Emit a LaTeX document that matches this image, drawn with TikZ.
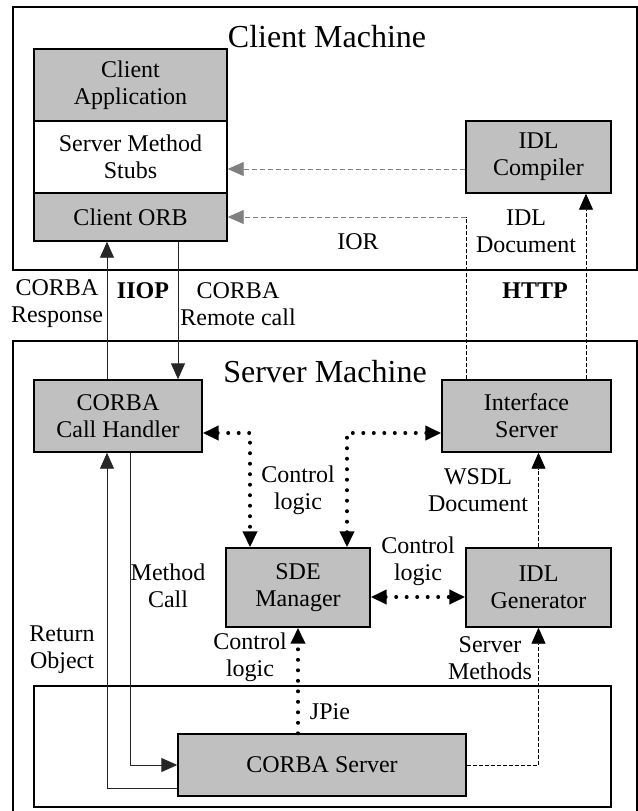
\documentclass[tikz,border=0pt]{standalone}
\usepackage{fontspec}
\setmainfont{Liberation Serif}
\usetikzlibrary{arrows.meta,positioning,calc}
\definecolor{boxgray}{HTML}{C0C0C0}

\begin{document}
\begin{tikzpicture}[
    x=0.5pt, y=-0.5pt,
    every node/.style={font=\fontsize{12}{13.5}\selectfont, align=center, inner sep=0pt},
    box/.style={draw, line width=0.7pt, fill=boxgray, minimum height=36pt},
    frame/.style={draw, line width=0.8pt},
    title/.style={font=\fontsize{16}{18}\selectfont},
    line/.style={draw=black!85, line width=0.45pt},
    dashg/.style={draw=black!50, line width=0.45pt, dash pattern=on 2.5pt off 1.5pt},
    dashk/.style={draw, line width=0.4pt, dash pattern=on 2pt off 1pt},
    dots/.style={draw, line width=2pt, line cap=round, dash pattern=on 0pt off 5.25pt},
    >={Triangle[length=8pt,width=7pt]}
]
    \useasboundingbox (0,0) rectangle (638,811);

    % Machines
    \draw[frame] (13,7) rectangle (637,270);
    \draw[frame] (13,341) rectangle (637,812);
    \draw[frame] (34,686) rectangle (611,807);
    \node[title] (cmt) at (327,37) {Client Machine};
    \node[title] (smt) at (325,372) {Server Machine};

    % Client side
    \node[box, minimum width=96.5pt] (ca) at (130.5,85) {Client\\Application};
    \node[box, fill=white, minimum width=96.5pt] (stubs) at (130.5,157) {Server Method\\Stubs};
    \node[box, minimum width=96.5pt, minimum height=24pt] (orb) at (130.5,217) {Client ORB};
    \node[box, minimum width=72.5pt] (idlc) at (538.5,157) {IDL\\Compiler};

    % Server side
    \node[box, minimum width=84pt] (callh) at (118,416) {CORBA\\Call Handler};
    \node[box, minimum width=84.5pt] (ifs) at (526.5,416) {Interface\\Server};
    \node[box, minimum width=72pt, minimum height=39.5pt] (sde) at (298,587.5) {SDE\\Manager};
    \node[box, minimum width=72.5pt, minimum height=39.5pt] (idlg) at (538.5,587.5) {IDL\\Generator};
    \node[box, minimum width=144pt, minimum height=31pt] (cs) at (322,765) {CORBA Server};

    % IIOP and HTTP links
    \draw[line, ->] (callh.north -| 107,0) -- (orb.south -| 107,0);
    \draw[line, ->] (orb.south -| 178,0) -- (callh.north -| 178,0);
    \draw[dashg, ->] ([yshift=-6pt]idlc.west) -- ([yshift=-6pt]stubs.east);
    \coordinate (iorbend) at (orb.east -| 466,0);
    \draw[dashk] (ifs.north -| iorbend) -- (iorbend);
    \draw[dashg, ->] (iorbend) -- (orb.east);
    \draw[dashk, ->] (ifs.north -| 586,0) -- (idlc.south -| 586,0);

    \node (lresp) at (57,304) {CORBA\\Response};
    \node[font=\fontsize{12}{13.5}\selectfont\bfseries] (liiop) at (143,291) {IIOP};
    \node (lcall) at (238,304) {CORBA\\Remote call};
    \node[font=\fontsize{12}{13.5}\selectfont\bfseries] (lhttp) at (535,291) {HTTP};
    \node (lior) at (358,242) {IOR};
    \node (lidl) at (526,231) {IDL\\Document};

    % Control logic
    \draw[dots, <->] ([yshift=-8.5pt]callh.east) -| (sde.north -| 250,0);
    \draw[dots, <->] ([yshift=-8.5pt]ifs.west) -| (sde.north -| 347,0);
    \draw[dots, <->] ([yshift=-4.75pt]sde.east) -- ([yshift=-4.75pt]idlg.west);
    \draw[dots, ->] (cs.north -| sde.south) -- (sde.south);
    \draw[dashk, ->] (idlg.north) -- (ifs.south -| idlg.north);

    \node (lctl1) at (298,490) {Control\\logic};
    \node (lwsdl) at (478,490) {WSDL\\Document};
    \node (lctl2) at (418,561) {Control\\logic};
    \node (lctl3) at (250,657) {Control\\logic};

    % Calls into JPie
    \draw[line, ->] (callh.south -| 130,0) |- (cs.west);
    \draw[line, ->] ([yshift=-11.5pt]cs.west) -| (callh.south -| 107,0);
    \draw[dashk, ->] (cs.east) -| (idlg.south);

    \node (lmeth) at (168,586) {Method\\Call};
    \node (lret) at (62,650) {Return\\Object};
    \node (lsm) at (490,658) {Server\\Methods};
    \node (ljpie) at (330,712) {JPie};
\end{tikzpicture}
\end{document}
